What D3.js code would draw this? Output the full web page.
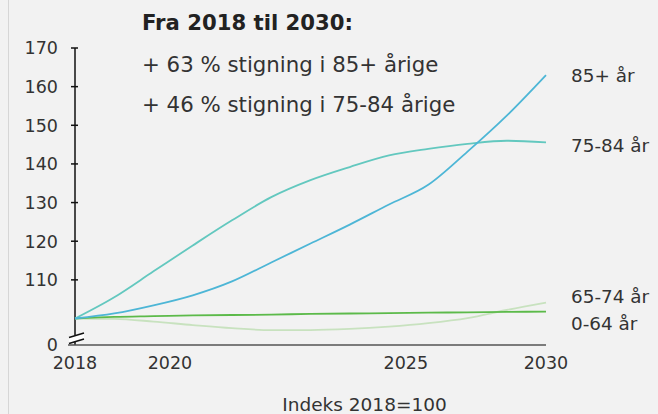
<!DOCTYPE html>
<html><head><meta charset="utf-8">
<script src="https://cdn.jsdelivr.net/npm/d3@7"></script>
<style>
html,body{margin:0;padding:0;background:#f2f2f2;}
svg{display:block;font-family:"DejaVu Sans",Verdana,sans-serif;}
</style></head>
<body>
<script>
const years = [2018,2019,2020,2021,2022,2023,2024,2025,2026,2027,2028,2029,2030];
const s85   = [100,101.3,103.4,106,109.6,114.5,119.4,124.3,129.5,134.6,143.2,152.5,163];
const s7584 = [100,105.5,112.2,118.9,125.4,131.4,135.8,139.2,142.2,143.9,145.2,146.0,145.6];
const s6574 = [100,99.9,99.2,98.3,97.5,97.0,97.0,97.3,97.9,98.8,100.1,102.2,104.1];
const s064  = [100,100.4,100.6,100.8,100.9,101.0,101.2,101.3,101.4,101.5,101.6,101.7,101.8];
const seriesNames = ["85+ år","75-84 år","65-74 år","0-64 år"];
const yTicks = [110,120,130,140,150,160,170];
const xTickLabels = ["2018","2020","2025","2030"];
const xTickPos = [2018,2020.42,2026.43,2030];
const titleLines = ["Fra 2018 til 2030:","+ 63 % stigning i 85+ årige","+ 46 % stigning i 75-84 årige"];
const axisTitle = "Indeks 2018=100";

const W=658,H=414;
const svg=d3.select("body").append("svg").attr("width",W).attr("height",H);
svg.append("rect").attr("width",W).attr("height",H).attr("fill","#f2f2f2");
svg.append("line").attr("x1",8.5).attr("x2",8.5).attr("y1",0).attr("y2",H).attr("stroke","#d6d6d6");

const x=d3.scaleLinear().domain([2018,2030]).range([75,546]);
const y=d3.scaleLinear().domain([100,170]).range([318.5,48]);
const yZero=345;
const fs=17.5, txt="#333";

// y axis
const ya=svg.append("g");
ya.append("line").attr("x1",75).attr("x2",75).attr("y1",y(170)).attr("y2",335).attr("stroke","#111").attr("stroke-width",1.5);
ya.append("line").attr("x1",75).attr("x2",75).attr("y1",339).attr("y2",yZero).attr("stroke","#111").attr("stroke-width",1.5);
yTicks.forEach(t=>{
  ya.append("line").attr("x1",71).attr("x2",78).attr("y1",y(t)).attr("y2",y(t)).attr("stroke","#111").attr("stroke-width",1.5);
  ya.append("text").attr("x",58).attr("y",y(t)).attr("dy","0.36em").attr("text-anchor","end")
    .attr("font-size",fs).attr("fill",txt).text(t);
});
ya.append("text").attr("x",58).attr("y",yZero).attr("dy","0.36em").attr("text-anchor","end")
  .attr("font-size",fs).attr("fill",txt).text("0");
// break symbol
svg.append("path").attr("d","M69,337 L84,333 L84,339 L69,343 Z").attr("fill","#fff");
svg.append("path").attr("d","M69,337.5 L84,333 M69,343.5 L84,339").attr("stroke","#111").attr("stroke-width",1.5).attr("fill","none");

// x axis
svg.append("line").attr("x1",68).attr("x2",x(2030)).attr("y1",yZero).attr("y2",yZero).attr("stroke","#555").attr("stroke-width",1.5);
xTickLabels.forEach((l,i)=>{
  svg.append("text").attr("x",x(xTickPos[i])).attr("y",369).attr("text-anchor","middle")
    .attr("font-size",fs).attr("fill",txt).text(l);
});
svg.append("text").attr("x",364.5).attr("y",411).attr("text-anchor","middle").attr("font-size",18.5).attr("fill",txt).text(axisTitle);

// lines
const line=d3.line().x((d,i)=>x(years[i])).y(d=>y(d)).curve(d3.curveMonotoneX);
const data=[s6574,s064,s7584,s85];
const colors=["#c8e2bf","#5cba4a","#63c8bf","#4db6d6"];
data.forEach((s,i)=>{
  svg.append("path").attr("d",line(s)).attr("fill","none").attr("stroke",colors[i]).attr("stroke-width",1.8);
});

// series labels
const labY=[75,145,296,323];
seriesNames.forEach((n,i)=>{
  svg.append("text").attr("x",571).attr("y",labY[i]).attr("dy","0.36em").attr("font-size",18.4).attr("fill",txt).text(n);
});

// annotation
svg.append("text").attr("x",142).attr("y",30).attr("font-size",21.2).attr("font-weight","bold").attr("fill","#222").text(titleLines[0]);
svg.append("text").attr("x",142).attr("y",72).attr("font-size",21.3).attr("fill",txt).text(titleLines[1]);
svg.append("text").attr("x",142).attr("y",112).attr("font-size",21.3).attr("fill",txt).text(titleLines[2]);
</script>
</body></html>
